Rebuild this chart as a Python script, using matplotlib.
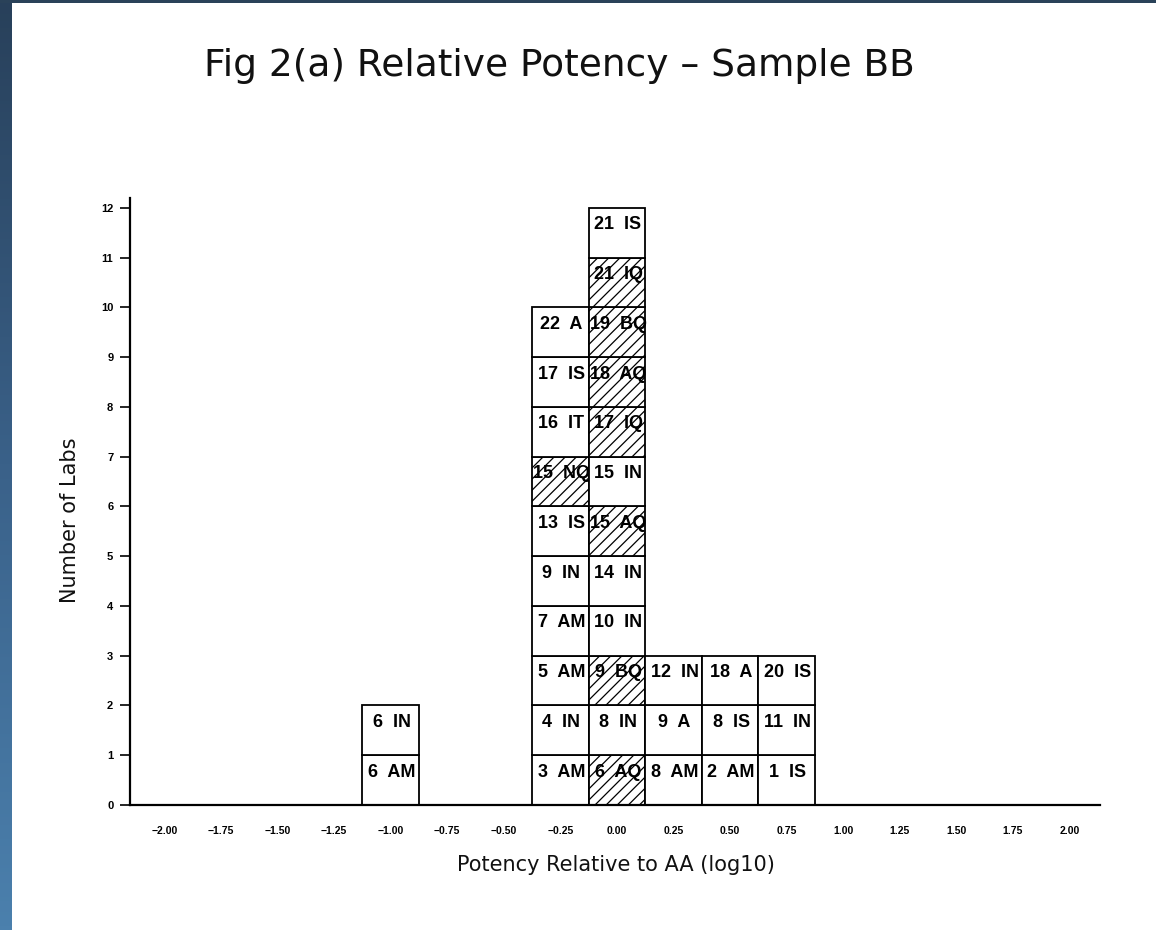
import matplotlib
matplotlib.use("Agg")
import matplotlib.pyplot as plt
import numpy as np
from matplotlib.colors import LinearSegmentedColormap

# ---- data ----
positions = [-1.00, -0.25, 0.00, 0.25, 0.50, 0.75]
col_m100 = ["6 AM", "6 IN"]
col_m025 = ["3 AM", "4 IN", "5 AM", "7 AM", "9 IN", "13 IS", "15 NQ", "16 IT", "17 IS", "22 A"]
col_000 = ["6 AQ", "8 IN", "9 BQ", "10 IN", "14 IN", "15 AQ", "15 IN", "17 IQ", "18 AQ", "19 BQ", "21 IQ", "21 IS"]
col_025 = ["8 AM", "9 A", "12 IN"]
col_050 = ["2 AM", "8 IS", "18 A"]
col_075 = ["1 IS", "11 IN", "20 IS"]
columns = [col_m100, col_m025, col_000, col_025, col_050, col_075]

xticks = [-2.00, -1.75, -1.50, -1.25, -1.00, -0.75, -0.50, -0.25, 0.00,
          0.25, 0.50, 0.75, 1.00, 1.25, 1.50, 1.75, 2.00]
yticks = list(range(0, 13))

title = "Fig 2(a) Relative Potency \u2013 Sample BB"
xlabel = "Potency Relative to AA (log10)"
ylabel = "Number of Labs"

plt.rcParams['hatch.linewidth'] = 0.9
W, H = 1156, 930
fig = plt.figure(figsize=(W / 100, H / 100), dpi=100)
fig.patch.set_facecolor("white")

# left gradient strip (slide background)
strip = fig.add_axes([0, 0, 12 / W, 1])
grad = np.linspace(0, 1, 256).reshape(-1, 1)
cmap = LinearSegmentedColormap.from_list("bg", ["#28405a", "#3a6189", "#4b80ad"])
strip.imshow(grad, aspect="auto", cmap=cmap, extent=[0, 1, 0, 1], origin="upper")
strip.axis("off")
top = fig.add_axes([0, 1 - 3 / H, 1, 3 / H])
top.set_facecolor("#2a4259")
top.set_xticks([]); top.set_yticks([])
for s in top.spines.values():
    s.set_visible(False)

ax = fig.add_axes([130 / W, 125 / H, 970 / W, 607 / H])
ax.set_xlim(-2.152, 2.135)
ax.set_ylim(0, 12.2)

for x, col in zip(positions, columns):
    for i, lab in enumerate(col):
        hatched = lab.endswith("Q")
        ax.bar(x, 1, width=0.25, bottom=i, facecolor="white", edgecolor="black",
               linewidth=1.3, hatch="///" if hatched else None, zorder=2)
        ax.text(x + 0.005, i + 0.66, lab.replace(" ", "  "), ha="center", va="center",
                fontsize=13, fontweight="bold", family="Liberation Sans",
                color="black", zorder=3)

for side in ["top", "right"]:
    ax.spines[side].set_visible(False)
ax.spines["left"].set_linewidth(1.6)
ax.spines["bottom"].set_linewidth(1.6)

ax.set_xticks(xticks)
ax.set_xticklabels([("\u2212" if v < 0 else "") + f"{abs(v):.2f}" for v in xticks],
                   fontsize=7.5, fontweight="bold", family="Liberation Sans")
ax.tick_params(axis="x", length=0, pad=15)
ax.set_yticks(yticks)
ax.set_yticklabels([str(v) for v in yticks], fontsize=8, fontweight="bold",
                   family="Liberation Sans")
ax.tick_params(axis="y", direction="out", length=7, width=1.2, pad=5)

fig.text(559 / W, 1 - 66 / H, title, ha="center", va="center", fontsize=27,
         family="DejaVu Sans", color="#111111")
fig.text(616 / W, 1 - 865 / H, xlabel, ha="center", va="center", fontsize=15,
         family="DejaVu Sans", color="#111111")
fig.text(70 / W, 1 - 520 / H, ylabel, ha="center", va="center", fontsize=15,
         rotation=90, family="DejaVu Sans", color="#111111")

fig.savefig("out.png", dpi=100, facecolor="white")
